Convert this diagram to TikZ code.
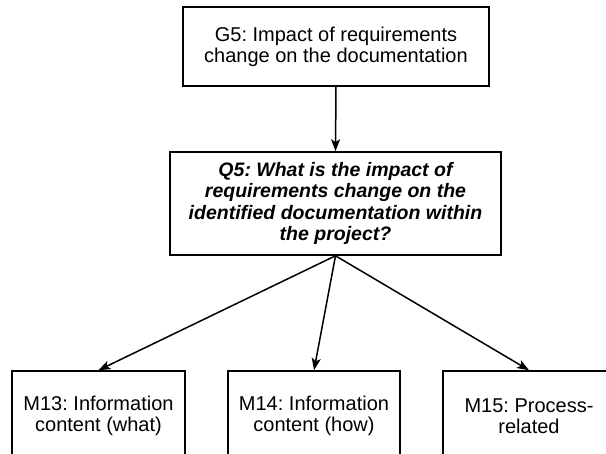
\documentclass[tikz,border=0pt]{standalone}
\usepackage{fontspec}
\setmainfont{Liberation Sans}
\usetikzlibrary{arrows.meta}
\frenchspacing
\tikzset{
  box/.style={draw, line width=1.6pt, inner sep=0pt, align=center,
    font=\fontsize{20}{21}\selectfont\frenchspacing},
  qbox/.style={box, font=\fontsize{19.5}{21.5}\selectfont\bfseries\itshape\frenchspacing},
  conn/.style={draw, line width=1.5pt, -{Stealth[length=12pt,width=9pt,inset=3pt]}}
}
\begin{document}
\begin{tikzpicture}[x=1pt,y=-1pt]
\useasboundingbox (0,0) rectangle (606,454);
\clip (0,0) rectangle (606,454);
\node[box, minimum width=306pt, minimum height=79pt] (g5) at (336,46.5)
  {G5: Impact of requirements\\change on the documentation};
\node[qbox, minimum width=331pt, minimum height=103pt] (q5) at (335.5,203.5)
  {Q5: What is the impact of\\requirements change on the\\identified documentation within\\the project?};
\node[box, minimum width=173pt, minimum height=90pt] (m13) at (98.5,416)
  {M13: Information\\content (what)};
\node[box, minimum width=172pt, minimum height=90pt] (m14) at (314,416)
  {M14: Information\\content (how)};
\node[box, minimum width=172pt, minimum height=90pt] (m15) at (529,416)
  {M15: Process-\\related};
\draw[conn] (g5.south) -- (q5.north);
\draw[conn] (q5.south) -- (m13.north);
\draw[conn] (q5.south) -- (m14.north);
\draw[conn] (q5.south) -- (m15.north);
\end{tikzpicture}
\end{document}
